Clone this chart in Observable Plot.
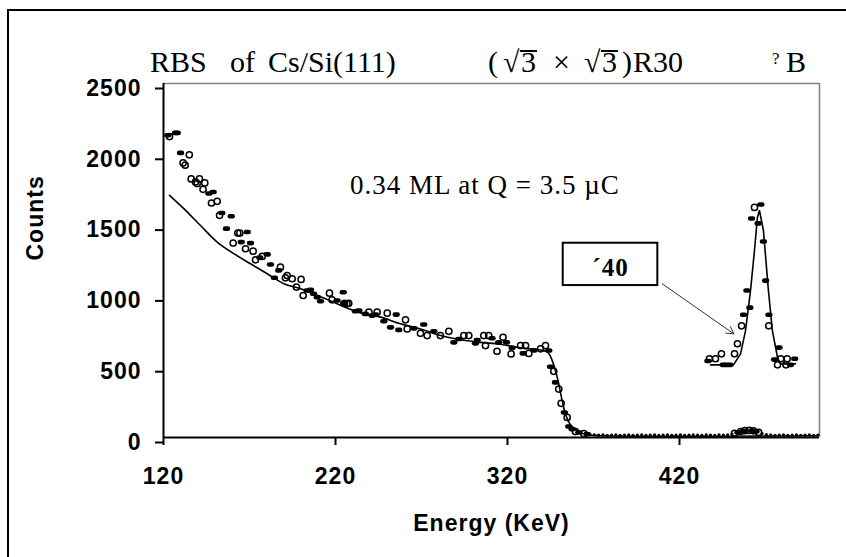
<!DOCTYPE html>
<html><head><meta charset="utf-8">
<script src="https://cdn.jsdelivr.net/npm/d3@7"></script>
<script src="https://cdn.jsdelivr.net/npm/@observablehq/plot@0.6"></script>
<style>
body{margin:0;background:#fff;}
#wrap{position:relative;width:846px;height:557px;overflow:hidden;background:#fff;}
#wrap svg{position:absolute;left:0;top:0;}
#frame{position:absolute;left:7px;top:9px;width:900px;height:600px;border-left:2px solid #000;border-top:2px solid #000;pointer-events:none;}
.t{position:absolute;top:47px;font-family:"Liberation Serif","Times New Roman",serif;font-size:30px;line-height:30px;white-space:pre;color:#000;}
.bar{position:absolute;height:1.5px;background:#000;}
</style></head><body><div id="wrap"></div>
<script>
// ---- data (Energy keV, Counts) ----
const xTicks = [120, 220, 320, 420];
const yTicks = [0, 500, 1000, 1500, 2000, 2500];

// measured spectrum, open-circle markers
const dataOpen = [[123.5,2125],[131.4,1939],[132.6,1923],[135,1996],[136.1,1826],[138.6,1805],[139.6,1793],[140.9,1826],[143,1753],[144,1798],[147.9,1656],[151.2,1668],[152.6,1569],[160.5,1373],[163.2,1444],[164.4,1444],[167.7,1333],[172.1,1316],[173.5,1255],[177.4,1279],[188,1203],[190.9,1128],[191.9,1144],[194.8,1121],[197.3,1062],[200,1116],[201.2,1003],[216.5,1019],[218,972],[225.2,948],[226.7,944],[227.7,948],[239.4,885],[244.2,885],[250.1,878],[260.7,831],[261.7,767],[269.4,736],[273.3,720],[281,720],[285.9,750],[294.6,720],[297.5,720],[306.2,720],[307.2,649],[309.1,720],[313.9,609],[317.4,708],[322.1,590],[327.6,649],[330.5,649],[332.4,594],[339.2,626],[342.1,649],[346.9,467],[349.8,342],[351.2,241],[354.7,142],[359.5,42],[364.4,28],[452,30],[455.5,42],[458,48],[460.5,50],[463,47],[466,36]];
// measured spectrum, filled (dash) markers
const dataFilled = [[122.5,2135],[127,2151],[128,2151],[129.9,2010],[146.4,1723],[148.9,1734],[153.9,1585],[156.6,1475],[159.4,1562],[165.2,1380],[168.7,1451],[170.6,1373],[176,1270],[180.3,1293],[182.2,1222],[184.5,1128],[187,1180],[203.5,1038],[205.5,1043],[207.2,1015],[209.4,991],[211.3,962],[220.9,967],[224.5,1026],[224.8,948],[231.6,892],[233.6,897],[237.4,873],[241.3,861],[243.3,868],[248.1,821],[252,778],[255.3,868],[256.8,760],[265.6,771],[271.3,798],[277.2,750],[288.8,672],[291.7,696],[301.4,665],[302.4,689],[311,701],[314.9,672],[319.4,672],[322.7,633],[329.1,594],[335.3,614],[344,614],[345,500],[347.9,389],[353.1,177],[355.6,78],[357.6,59],[361.5,35],[366.3,24],[454,36],[457,45],[462,48],[464.5,42]];
// background channels above the Si edge
const tailE = [368,370.5,373,375.5,378,380.5,383,385.5,388,390.5,393,395.5,398,400.5,403,405.5,408,410.5,413,415.5,418,420.5,423,425.5,428,430.5,433,435.5,438,440.5,443,445.5,448,450.5,468,470.5,473,475.5,478,480.5,483,485.5,488,490.5,493,495.5,498,500.5];
const tailC = [20,18,17,18,16,17,18,16,17,18,16,17,18,16,17,18,16,17,18,16,17,18,16,17,18,17,16,18,17,16,18,17,19,24,28,20,18,16,17,18,16,17,18,16,17,18,16,17];
// simulation
const sim = [[123.5,1710],[131.8,1616],[141.5,1497],[151.2,1380],[160.9,1298],[170.6,1227],[180.3,1156],[190,1086],[199.7,1050],[209.4,1003],[219,955],[228.7,905],[234.5,880],[246.2,850],[257.8,803],[269.4,767],[281,720],[292.7,690],[304.3,672],[315.9,658],[327.6,633],[339.2,618],[343.4,602],[346,543],[348.9,425],[351.8,260],[353.7,166],[356.6,90],[360.5,47],[366.3,19],[375,12],[500,12]];
// Cs peak magnified x40 (offset 500)
const peakOpen = [[437.4,556],[440.9,556],[444.4,591],[452,591],[453.7,662],[456.1,789],[463.6,1625],[471.9,789],[477,513],[478.9,556],[481.9,513],[482.6,556]];
const peakFilled = [[436.5,540],[445.4,513],[447.4,513],[449.3,513],[457.2,867],[459.2,1038],[460.9,917],[461.9,1547],[465.7,1512],[467.3,1646],[468.8,1384],[470.1,1108],[472,867],[475.3,550],[477.9,635],[484.5,513],[487,556]];
const peakSim = [[438,513],[451.4,513],[455.5,591],[458.4,755],[461.3,1038],[463.6,1321],[465.3,1554],[466.5,1603],[468.8,1462],[471.7,1038],[474,755],[477,564],[478.7,520],[487.4,520]];
const tail = tailE.map((e, i) => [e, tailC[i]]);

const note = "0.34 ML at Q = 3.5 µC";
const boxLabel = "´40";

const X = d => d[0], Y = d => d[1];
const serif = '"Liberation Serif","Times New Roman",serif';
// small horizontal pill, like the spreadsheet's dash marker
const dash = {draw(ctx) {
  const h = 2.3, w = 1.4;
  ctx.moveTo(-w, -h); ctx.lineTo(w, -h);
  ctx.arc(w, 0, h, -Math.PI / 2, Math.PI / 2);
  ctx.lineTo(-w, h);
  ctx.arc(-w, 0, h, Math.PI / 2, Math.PI * 1.5);
  ctx.closePath();
}};

const chart = Plot.plot({
  width: 846, height: 557,
  marginLeft: 163, marginRight: 27, marginTop: 83, marginBottom: 120,
  style: {fontFamily: '"Liberation Sans", Arial, sans-serif', fontSize: "23px", fontWeight: "bold", letterSpacing: "1px", background: "white", color: "black"},
  x: {domain: [120, 501.4]},
  y: {domain: [0, 2500]},
  marks: [
    Plot.ruleY([2500], {stroke: "#808080", strokeWidth: 1.5}),
    Plot.ruleX([501.4], {stroke: "#808080", strokeWidth: 1.5}),
    Plot.axisX({ticks: xTicks, tickSize: 8, tickPadding: 22, label: null, strokeWidth: 2, tickFormat: d => String(d)}),
    Plot.axisY({ticks: yTicks, tickSize: 8, tickPadding: 14, label: null, strokeWidth: 2, dy: 5, tickFormat: d => String(d)}),
    Plot.ruleY([0], {strokeWidth: 2}),
    Plot.ruleX([120], {strokeWidth: 2}),
    Plot.text(["Counts"], {frameAnchor: "left", dx: -128, rotate: -90, text: d => d}),
    Plot.text(["Energy (KeV)"], {frameAnchor: "bottom", dy: 93, text: d => d}),
    Plot.line(sim, {x: X, y: Y, strokeWidth: 1.6, curve: "catmull-rom"}),
    Plot.line(peakSim, {x: X, y: Y, strokeWidth: 1.6}),
    Plot.dot(tail, {x: X, y: Y, r: 1.6, fill: "black", stroke: "none"}),
    Plot.dot(dataFilled, {x: X, y: Y, symbol: dash, fill: "black", stroke: "none"}),
    Plot.dot(dataOpen, {x: X, y: Y, r: 3.1, fill: "none", stroke: "black", strokeWidth: 1.5}),
    Plot.dot(peakFilled, {x: X, y: Y, symbol: dash, fill: "black", stroke: "none"}),
    Plot.dot(peakOpen, {x: X, y: Y, r: 3.1, fill: "none", stroke: "black", strokeWidth: 1.5}),
    Plot.text([note], {x: () => 306.9, y: () => 1782, text: d => d, fontFamily: serif, fontSize: 27, fontWeight: "normal"}),
    Plot.rect([boxLabel], {x1: () => 352.4, x2: () => 407.4, y1: () => 1073, y2: () => 1372, fill: "white", stroke: "black", strokeWidth: 2}),
    Plot.text([boxLabel], {x: () => 379.9, y: () => 1200, text: d => d, fontFamily: serif, fontSize: 25, fontWeight: "bold"}),
    Plot.arrow([boxLabel], {x1: () => 409.9, y1: () => 1086, x2: () => 451.6, y2: () => 732, stroke: "#333", strokeWidth: 1, headLength: 12, inset: 0})
  ]
});
const wrap = document.getElementById("wrap");
wrap.appendChild(chart);

// title (HTML overlay so the radicals can carry their bars)
const titleParts = [["RBS",150],["of",230],["Cs/Si(111)",268],["(",488],["√",503],["3",521],["×",553],["√",584],["3",602],[")",622],["R30",633],["B",786]];
for (const [s, left] of titleParts) {
  const sp = document.createElement("span");
  sp.className = "t"; sp.textContent = s; sp.style.left = left + "px";
  wrap.appendChild(sp);
}
const q = document.createElement("span");
q.className = "t"; q.textContent = "?"; q.style.left = "772px"; q.style.fontSize = "17px"; q.style.top = "44px";
wrap.appendChild(q);
for (const left of [520, 601]) {
  const b = document.createElement("div");
  b.className = "bar"; b.style.left = left + "px"; b.style.top = "50px"; b.style.width = "17px";
  wrap.appendChild(b);
}
const fr = document.createElement("div"); fr.id = "frame"; wrap.appendChild(fr);
</script></body></html>
